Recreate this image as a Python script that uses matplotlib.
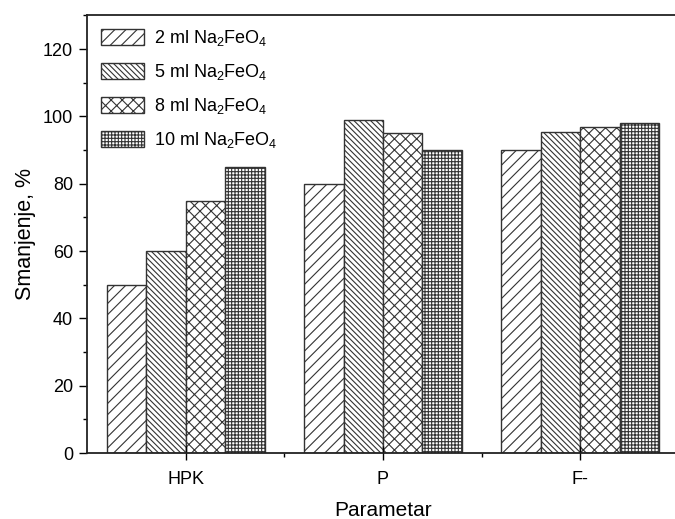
import matplotlib
matplotlib.use('Agg')
from matplotlib import pyplot as plt
from matplotlib.ticker import MultipleLocator, FixedLocator
import numpy as np

plt.rcParams['font.family'] = ['Liberation Sans', 'DejaVu Sans']
plt.rcParams['hatch.linewidth'] = 0.8
plt.rcParams['hatch.color'] = '#555555'
plt.rcParams['mathtext.fontset'] = 'custom'
plt.rcParams['mathtext.rm'] = 'Liberation Sans'

categories = ['HPK', 'P', 'F-']
series_labels = ['2 ml Na$_2$FeO$_4$', '5 ml Na$_2$FeO$_4$',
                 '8 ml Na$_2$FeO$_4$', '10 ml Na$_2$FeO$_4$']
vals_2ml = [50, 80, 90]
vals_5ml = [60, 99, 95.5]
vals_8ml = [75, 95, 97]
vals_10ml = [85, 90, 98]

series = [vals_2ml, vals_5ml, vals_8ml, vals_10ml]
hatches = ['///', '\\' * 6, 'xxx', '+' * 5]

fig = plt.figure(figsize=(6.75, 5.19), dpi=100)
ax = fig.add_axes([87 / 675, 66 / 519, 592 / 675, (453 - 15.5) / 519])

x = np.arange(1, len(categories) + 1)
w = 0.2
for i, (vals, h, lab) in enumerate(zip(series, hatches, series_labels)):
    ax.bar(x + (i - 1.5) * w, vals, w, facecolor='white', edgecolor='#333333',
           linewidth=1.0, hatch=h, label=lab)

ax.set_xlim(0.5, 3.5)
ax.set_ylim(0, 130)
ax.set_xticks(x)
ax.set_xticklabels(categories, fontsize=13)
ax.xaxis.set_minor_locator(FixedLocator([1.5, 2.5]))
ax.set_yticks(np.arange(0, 121, 20))
ax.yaxis.set_minor_locator(MultipleLocator(10))
ax.tick_params(axis='y', which='major', direction='out', length=6, width=1,
               labelsize=13, pad=4)
ax.tick_params(axis='y', which='minor', direction='out', length=3, width=1)
ax.tick_params(axis='x', which='major', direction='inout', length=10, width=1,
               labelsize=13, pad=8)
ax.tick_params(axis='x', which='minor', direction='out', length=3, width=1)

for s in ['left', 'bottom', 'top']:
    ax.spines[s].set_linewidth(1.3)
    ax.spines[s].set_color('#222222')
ax.spines['right'].set_visible(False)

ax.set_ylabel('Smanjenje, %', fontsize=15.5, labelpad=5)
ax.set_xlabel('Parametar', fontsize=15, labelpad=9)

ax.legend(loc='upper left', bbox_to_anchor=(0.004, 0.998), frameon=False,
          fontsize=13, handlelength=2.4, handleheight=0.95, labelspacing=0.78,
          handletextpad=0.55, borderpad=0.15)

fig.savefig('out.png', dpi=100)
